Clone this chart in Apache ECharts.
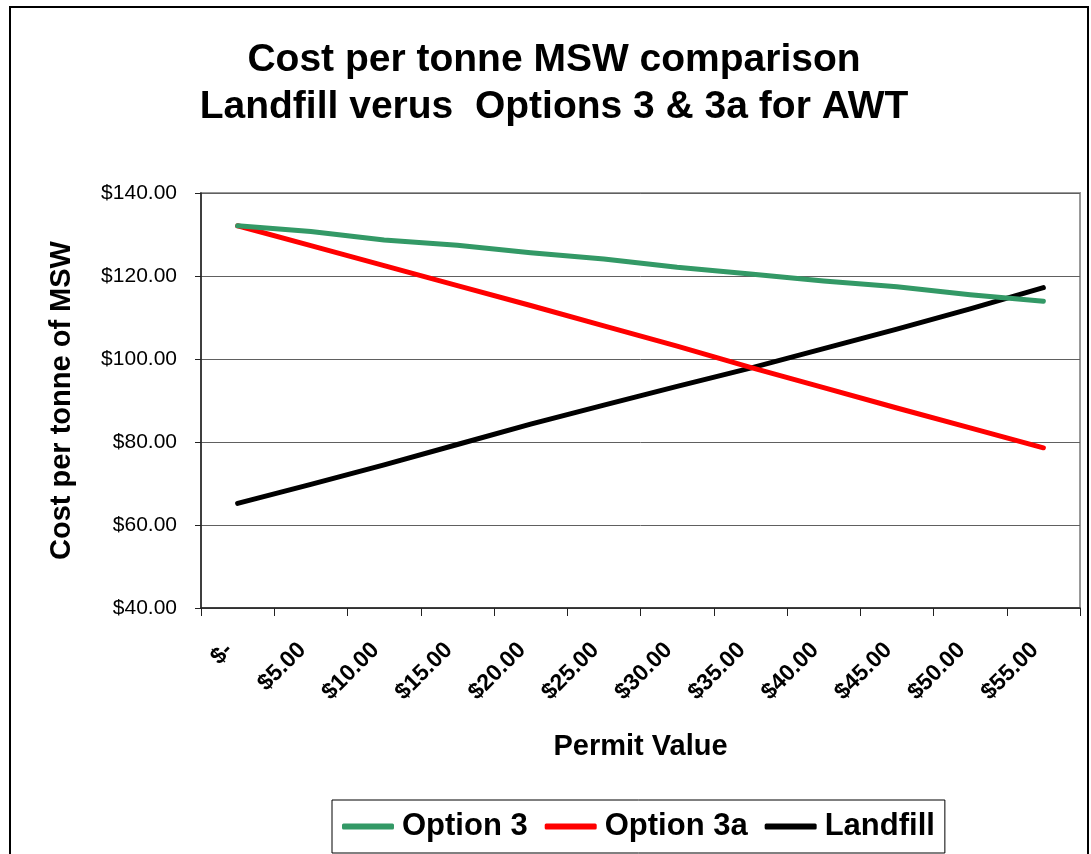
<!DOCTYPE html>
<html>
<head>
<meta charset="utf-8">
<title>Cost per tonne MSW comparison</title>
<script src="https://cdn.jsdelivr.net/npm/echarts@6/dist/echarts.min.js"></script>
<style>
  html, body { margin: 0; padding: 0; background: #ffffff; }
  #chart { width: 1091px; height: 854px; }
</style>
</head>
<body>
<div id="chart"></div>
<script>
// Permit value categories along the x axis
const permitValues = ['$-', '$5.00', '$10.00', '$15.00', '$20.00', '$25.00',
                      '$30.00', '$35.00', '$40.00', '$45.00', '$50.00', '$55.00'];

// Cost per tonne of MSW for each option
const option3  = [132.1, 130.7, 128.7, 127.4, 125.6, 124.1, 122.1, 120.5, 118.8, 117.4, 115.5, 113.9];
const option3a = [132.1, 127.3, 122.5, 117.7, 112.9, 108.0, 103.1, 98.0, 93.1, 88.2, 83.4, 78.6];
const landfill = [65.2, 69.8, 74.5, 79.4, 84.3, 88.9, 93.4, 97.8, 102.5, 107.2, 112.1, 117.2];

const seriesNames = ['Option 3', 'Option 3a', 'Landfill'];
const seriesColors = ['#339966', '#ff0000', '#000000'];
const seriesData = [option3, option3a, landfill];

const FONT = '"Liberation Sans", Arial, Helvetica, sans-serif';

const chart = echarts.init(document.getElementById('chart'), null, { renderer: 'canvas' });

chart.setOption({
  backgroundColor: '#ffffff',
  animation: false,
  textStyle: { fontFamily: FONT, color: '#000' },
  title: {
    text: 'Cost per tonne MSW comparison\nLandfill verus  Options 3 & 3a for AWT',
    left: 549,
    top: 32,
    textAlign: 'center',
    textStyle: {
      fontFamily: FONT,
      fontSize: 39,
      fontWeight: 'bold',
      lineHeight: 47,
      color: '#000'
    }
  },
  graphic: [{
    // chart frame
    type: 'rect',
    shape: { x: 10, y: 7, width: 1078, height: 900 },
    style: { fill: 'none', stroke: '#000', lineWidth: 2 },
    silent: true,
    z: 100
  }],
  legend: {
    data: seriesNames,
    left: 332,
    top: 800,
    orient: 'horizontal',
    icon: 'roundRect',
    itemWidth: 52,
    itemHeight: 6,
    itemGap: 17,
    padding: [11, 10, 11, 10],
    borderColor: '#000',
    borderWidth: 1,
    textStyle: {
      fontFamily: FONT,
      fontSize: 31,
      fontWeight: 'bold',
      color: '#000',
      padding: [0, 0, 0, 3]
    }
  },
  grid: {
    left: 201,
    right: 11,
    top: 193,
    bottom: 246,
    show: true,
    borderColor: '#999',
    borderWidth: 2,
    containLabel: false
  },
  xAxis: {
    type: 'category',
    data: permitValues,
    boundaryGap: true,
    name: 'Permit Value',
    nameLocation: 'middle',
    nameGap: 124,
    nameTextStyle: { fontFamily: FONT, fontSize: 29, fontWeight: 'bold', color: '#000' },
    axisLine: { show: true, lineStyle: { color: '#222', width: 1.5 } },
    axisTick: { show: true, alignWithLabel: false, length: 8, lineStyle: { color: '#222', width: 1 } },
    axisLabel: {
      interval: 0,
      rotate: 45,
      margin: 30,
      padding: [0, 12, 0, 0],
      fontFamily: FONT,
      fontSize: 23,
      fontWeight: 'bold',
      color: '#000'
    },
    splitLine: { show: false }
  },
  yAxis: {
    type: 'value',
    min: 40,
    max: 140,
    interval: 20,
    name: 'Cost per tonne of MSW',
    nameLocation: 'middle',
    nameGap: 125,
    nameTextStyle: { fontFamily: FONT, fontSize: 29, fontWeight: 'bold', color: '#000' },
    axisLine: { show: true, lineStyle: { color: '#222', width: 1.5 } },
    axisTick: { show: true, length: 6, lineStyle: { color: '#222', width: 1 } },
    axisLabel: {
      margin: 24,
      fontFamily: FONT,
      fontSize: 21,
      color: '#000',
      formatter: function (v) { return '$' + v.toFixed(2); }
    },
    splitLine: { show: true, lineStyle: { color: '#606060', width: 1 } }
  },
  series: seriesNames.map(function (name, i) {
    return {
      name: name,
      type: 'line',
      data: seriesData[i],
      showSymbol: false,
      symbol: 'none',
      smooth: false,
      color: seriesColors[i],
      lineStyle: { color: seriesColors[i], width: 5, cap: 'round', join: 'round' },
      z: 3 - i
    };
  })
});
</script>
</body>
</html>
